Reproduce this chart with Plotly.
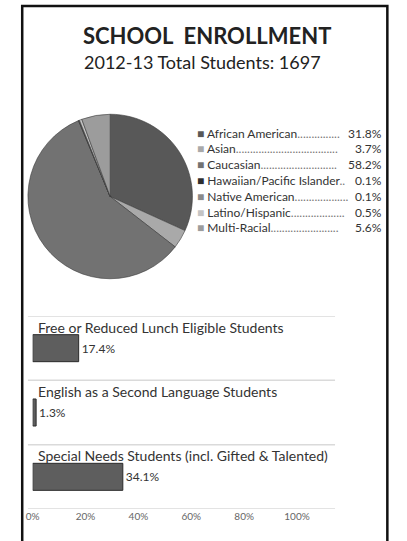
import plotly.graph_objects as go

W, H = 407, 541

# pie data
groups = ["African American", "Asian", "Caucasian", "Hawaiian/Pacific Islander",
          "Native American", "Latino/Hispanic", "Multi-Racial"]
group_pct = [31.8, 3.7, 58.2, 0.1, 0.1, 0.5, 5.6]
group_colors = ["#585858", "#a9a9a9", "#727272", "#2e2e2e", "#8a8a8a", "#c4c4c4", "#9c9c9c"]

# bar data
measures = ["Free or Reduced Lunch Eligible Students",
            "English as a Second Language Students",
            "Special Needs Students (incl. Gifted & Talented)"]
measure_pct = [17.4, 1.3, 34.1]
tick_vals = [0, 20, 40, 60, 80, 100]
tick_text = [f"{v}%" for v in tick_vals]

FONT = "Lato, Open Sans, sans-serif"


def px(x):
  return x / W


def py(y):
  return 1 - y / H


def leader(label, pct):
  # rough width estimate so the dots fill the gap
  text_w = len(label) * 5.8 + len(f"{pct}%") * 6.4
  return "." * max(2, int((176 - text_w) / 3.3))


fig = go.Figure()

fig.add_pie(
  labels=groups,
  values=group_pct,
  sort=False,
  direction="clockwise",
  marker=dict(colors=group_colors, line=dict(color="#3a3a3a", width=0.6)),
  textinfo="none",
  showlegend=False,
  domain=dict(x=[px(22), px(195)], y=[py(284), py(109)]),
)

fig.add_bar(
  x=measure_pct,
  y=measures,
  orientation="h",
  width=0.42,
  marker=dict(color="#5e5e5e", line=dict(color="#2a2a2a", width=1)),
  text=[f"{v}%" for v in measure_pct],
  textposition="outside",
  textfont=dict(family=FONT, size=12, color="#333"),
  cliponaxis=False,
  showlegend=False,
)

annotations = [
  dict(text="<b>SCHOOL  ENROLLMENT</b>", x=px(210), y=py(35), xref="paper", yref="paper",
       xanchor="center", yanchor="middle", showarrow=False,
       font=dict(family=FONT, size=22, color="#222")),
  dict(text="2012-13 Total Students: 1697", x=px(206), y=py(62), xref="paper", yref="paper",
       xanchor="center", yanchor="middle", showarrow=False,
       font=dict(family=FONT, size=18, color="#222")),
]

for i, (g, v, c) in enumerate(zip(groups, group_pct, group_colors)):
  yy = py(133 + i * 15.8)
  annotations.append(dict(
    text=f"<span style='color:{c}'>■</span> {g}<span style='color:#777'>{leader(g, v)}</span>",
    x=px(198), y=yy, xref="paper", yref="paper", xanchor="left", yanchor="middle",
    showarrow=False, font=dict(family=FONT, size=12, color="#333")))
  annotations.append(dict(
    text=f"{v}%", x=px(397), y=yy, xref="paper", yref="paper", xanchor="right",
    yanchor="middle", showarrow=False, font=dict(family=FONT, size=12, color="#333")))

for m in measures:
  annotations.append(dict(
    text=m, x=0, y=m, xref="x", yref="y", xanchor="left", yanchor="middle",
    yshift=21, xshift=3, showarrow=False, font=dict(family=FONT, size=14, color="#333")))

shapes = [
  dict(type="rect", xref="paper", yref="paper", x0=px(16), x1=px(400), y0=-0.05, y1=py(6),
       line=dict(color="#111", width=2.5)),
]
for k in range(len(measures) + 1):
  shapes.append(dict(type="line", xref="paper", yref="y", x0=px(22), x1=px(345),
                     y0=k - 0.5, y1=k - 0.5, line=dict(color="#dadada", width=1.5)))

fig.update_layout(
  width=W, height=H,
  margin=dict(l=0, r=0, t=0, b=0),
  paper_bgcolor="white",
  plot_bgcolor="white",
  annotations=annotations,
  shapes=shapes,
  xaxis=dict(domain=[px(27), px(305)], range=[0, 100], tickvals=tick_vals, ticktext=tick_text,
             showgrid=False, zeroline=False, showline=False, ticks="",
             tickfont=dict(family=FONT, size=10, color="#666")),
  yaxis=dict(domain=[py(509), py(316)], range=[2.5, -0.5], showticklabels=False,
             showgrid=False, zeroline=False),
)

fig.write_html(
  "out.html",
  config=dict(displayModeBar=False, responsive=False),
  post_script="document.body.style.margin = '0'; document.body.style.overflow = 'hidden';",
)
